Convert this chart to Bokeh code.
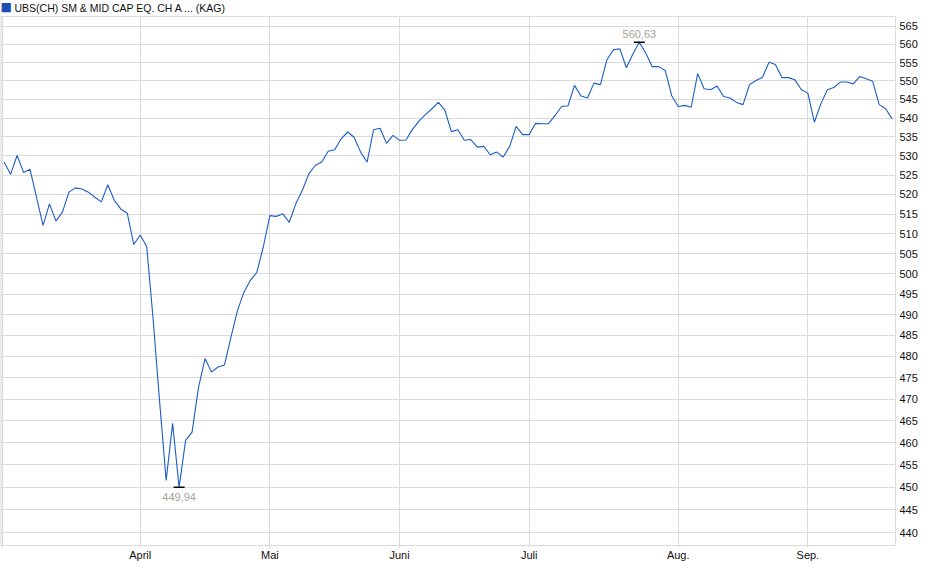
from bokeh.plotting import figure
from bokeh.models import (FixedTicker, Range1d, Span, BoxAnnotation,
                          PrintfTickFormatter, ColumnDataSource)
from bokeh.core.properties import value
from bokeh.embed import file_html
from bokeh.resources import INLINE

# ---- data (daily NAV, trading-day index starting 3 March) ----
title_text = "UBS(CH) SM & MID CAP EQ. CH A ... (KAG)"
prices = [
    528.4, 525.2, 530.1, 525.7, 526.5, 519.3, 512.1, 517.6, 513.2, 515.5,
    520.6, 521.7, 521.4, 520.6, 519.3, 518.1, 522.5, 518.5, 516.3, 515.2,
    507.3, 509.7, 506.8, 488.8, 469.3, 451.5, 464.4, 449.94, 460.5, 462.4,
    472.8, 479.5, 476.3, 477.5, 478.0, 484.6, 491.0, 495.5, 498.4, 500.4,
    506.8, 514.6, 514.4, 515.05, 512.9, 517.6, 521.0, 525.3, 527.5, 528.4,
    531.2, 531.6, 534.5, 536.3, 534.9, 531.0, 528.4, 536.9, 537.3, 533.3,
    535.4, 534.1, 534.2, 537.0, 539.2, 540.9, 542.5, 544.2, 542.1, 536.4,
    536.9, 534.1, 534.3, 532.3, 532.5, 530.3, 531.0, 529.7, 532.5, 537.8,
    535.6, 535.6, 538.6, 538.5, 538.5, 540.7, 543.1, 543.3, 548.8, 545.9,
    545.4, 549.4, 549.0, 555.8, 558.5, 558.8, 553.6, 557.4, 560.63, 557.6,
    553.9, 553.9, 552.8, 546.0, 543.1, 543.4, 542.9, 552.0, 547.9, 547.6,
    548.6, 545.8, 545.4, 544.2, 543.6, 549.0, 550.1, 551.0, 555.1, 554.5,
    550.9, 550.9, 550.3, 547.6, 546.7, 538.9, 543.8, 547.6, 548.2, 549.7,
    549.7, 549.2, 551.2, 550.6, 549.9, 543.6, 542.5, 539.8,
]
day_index = list(range(len(prices)))
month_ticks = [-0.25, 21, 41, 61, 81, 104, 124]
month_labels = ["", "April", "Mai", "Juni", "Juli", "Aug.", "Sep."]
y_ticks = [440, 445, 450, 455, 460, 465, 470, 475, 480, 485, 490, 495, 500,
           505, 510, 515, 520, 525, 530, 535, 540, 545, 550, 555, 560, 565]

FONT = "Liberation Sans"
GRID = "#dadada"
LINE = "#1c5cc6"

X0, X1 = -0.555, 137.52      # plotted x window
Y0, Y1 = 437.2, 567.8        # plotted y window (log)
Y_TOP = 572.3                # frame extends 16px above the plot window for the header

p = figure(width=924, height=563, y_axis_type="log",
           x_range=Range1d(X0, X1), y_range=Range1d(Y0, Y_TOP),
           output_backend="svg", toolbar_location=None,
           y_axis_location="right",
           min_border_left=0, min_border_right=29,
           min_border_top=0, min_border_bottom=18)
p.outline_line_color = None
p.background_fill_color = "white"
p.border_fill_color = "white"

# frame left border, then white header band that hides grid above the window
p.add_layout(Span(location=X0, dimension="height", line_color=GRID,
                  line_width=2, level="underlay"))
p.add_layout(BoxAnnotation(bottom=Y1, fill_color="white", fill_alpha=1.0,
                           line_color=None, level="underlay"))
p.add_layout(Span(location=Y1, dimension="width", line_color=GRID,
                  line_width=1, level="underlay"))

# header: coloured square + series name
p.text(x=[X0], y=[Y_TOP], text=["\u25a0"], text_align="left",
       text_baseline="middle", x_offset=0, y_offset=6,
       text_font=value("DejaVu Sans"), text_font_size="12px",
       text_color="#1c4fb0")
p.text(x=[X0], y=[Y_TOP], text=[title_text], text_align="left",
       text_baseline="top", x_offset=14, y_offset=1,
       text_font=value(FONT), text_font_size="10.5px", text_color="#111111")

src = ColumnDataSource(dict(x=day_index, y=prices))
p.line("x", "y", source=src, line_color=LINE, line_width=1.1)

# x axis
xt = FixedTicker(ticks=month_ticks, minor_ticks=[])
p.xaxis.ticker = xt
p.xaxis.major_label_overrides = {t: l for t, l in zip(month_ticks, month_labels)}
p.xgrid.ticker = xt
p.xaxis.axis_line_color = GRID
p.xaxis.major_tick_line_color = GRID
p.xaxis.major_tick_out = 2
p.xaxis.major_tick_in = 0
p.xaxis.minor_tick_line_color = None
p.xaxis.major_label_standoff = 1
p.xaxis.major_label_text_font = FONT
p.xaxis.major_label_text_font_size = "11px"
p.xaxis.major_label_text_color = "#111111"

# y axis (log scale)
yt = FixedTicker(ticks=y_ticks, minor_ticks=[])
p.yaxis.ticker = yt
p.yaxis.bounds = (Y0, Y1)
p.ygrid.ticker = yt
p.yaxis.formatter = PrintfTickFormatter(format="%d")
p.yaxis.axis_line_color = GRID
p.yaxis.major_tick_line_color = None
p.yaxis.major_tick_out = 0
p.yaxis.major_tick_in = 0
p.yaxis.minor_tick_line_color = None
p.yaxis.major_label_standoff = 4
p.yaxis.major_label_text_font = FONT
p.yaxis.major_label_text_font_size = "11px"
p.yaxis.major_label_text_color = "#111111"

p.xgrid.grid_line_color = GRID
p.ygrid.grid_line_color = GRID

# high / low markers
hi = prices.index(max(prices))
lo = prices.index(min(prices))
p.scatter(x=[hi, lo], y=[prices[hi], prices[lo]], marker="dash", size=11,
          line_color="black", line_width=1.5)
fmt = lambda v: f"{v:.2f}".replace(".", ",")
p.text(x=[hi], y=[prices[hi]], text=[fmt(prices[hi])], text_align="center",
       text_baseline="bottom", y_offset=-4, text_font=value(FONT),
       text_font_size="11px", text_color="#a9a196")
p.text(x=[lo], y=[prices[lo]], text=[fmt(prices[lo])], text_align="center",
       text_baseline="top", y_offset=6, text_font=value(FONT),
       text_font_size="11px", text_color="#a9a196")

open("out.html", "w").write(file_html(p, INLINE))
